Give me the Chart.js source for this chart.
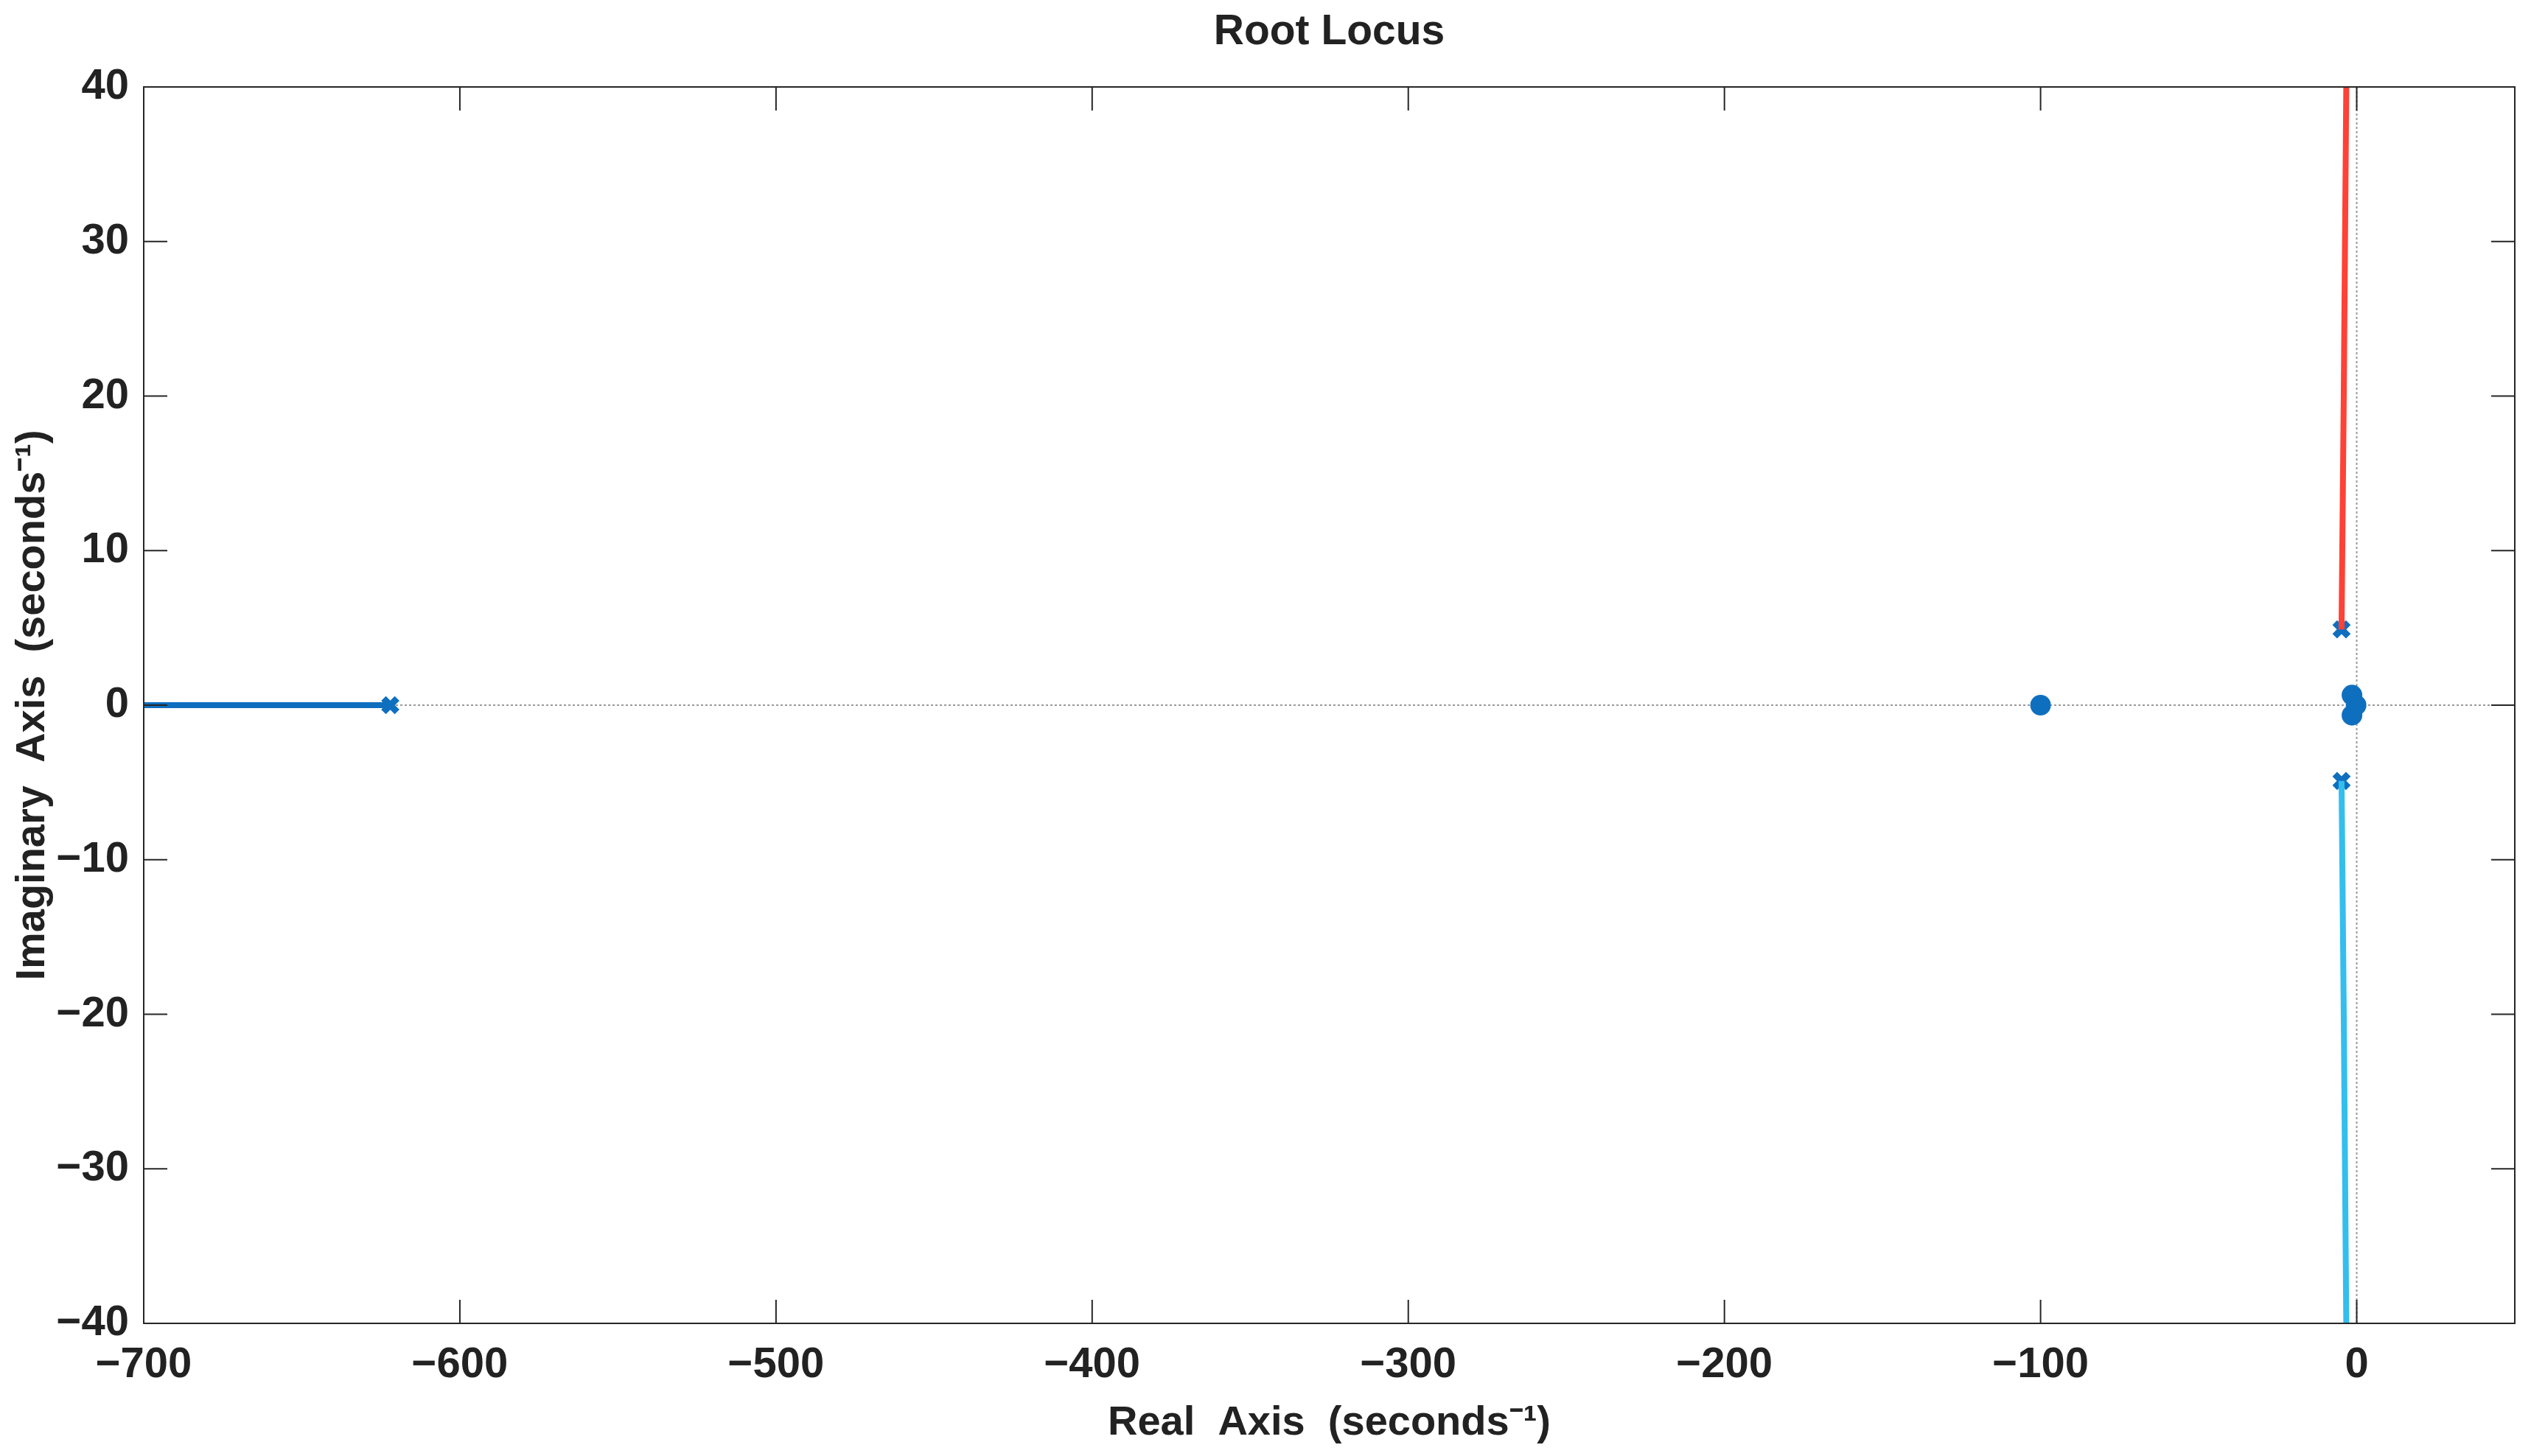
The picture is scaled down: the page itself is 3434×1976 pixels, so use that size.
<!DOCTYPE html>
<html>
<head>
<meta charset="utf-8">
<script src="https://cdn.jsdelivr.net/npm/chart.js@4.4.1/dist/chart.umd.min.js"></script>
<style>
  body { margin: 0; background: #fff; }
</style>
</head>
<body>
<canvas id="rootLocusCanvas" width="3434" height="1976"></canvas>
<script>
const rootLocusCanvas = document.getElementById("rootLocusCanvas");

// tick values
const xTicks = [-700, -600, -500, -400, -300, -200, -100, 0];
const yTicks = [-40, -30, -20, -10, 0, 10, 20, 30, 40];

// locus branches (real, imag)
const branchRealLeft = [-700, -622];
const branchImagLeft = [0, 0];
const branchRealUpper = [-4.8, -4.1, -3.3];
const branchImagUpper = [4.9, 20, 40];
const branchRealLower = [-4.8, -4.1, -3.3];
const branchImagLower = [-4.9, -20, -40];

// open loop poles and zeros
const poleReal = [-622, -4.8, -4.8];
const poleImag = [0, 4.9, -4.9];
const zeroReal = [-100, -1.5, -1.5, -0.2];
const zeroImag = [0, 0.65, -0.65, 0];

const toPoints = (xs, ys) => xs.map((x, i) => ({ x: x, y: ys[i] }));

const blue = '#0F6FBF';
const textColor = '#222222';
const fontFamily = '"Liberation Sans", Arial, Helvetica, sans-serif';

const minusSign = v => String(v).replace('-', '\u2212');

const boxAndTicks = {
    id: 'boxAndTicks',
    beforeDatasetsDraw(chart) {
        const ctx = chart.ctx;
        const area = chart.chartArea;
        const x0 = chart.scales.x.getPixelForValue(0);
        const y0 = chart.scales.y.getPixelForValue(0);

        ctx.save();
        ctx.strokeStyle = '#999999';
        ctx.lineWidth = 2;
        ctx.setLineDash([3, 3]);
        ctx.beginPath();
        ctx.moveTo(area.left, y0);
        ctx.lineTo(area.right, y0);
        ctx.moveTo(x0, area.top);
        ctx.lineTo(x0, area.bottom);
        ctx.stroke();
        ctx.restore();
    },
    afterDraw(chart) {
        const ctx = chart.ctx;
        const area = chart.chartArea;
        const tickLen = 32;

        ctx.save();
        ctx.strokeStyle = '#262626';
        ctx.lineWidth = 2;
        ctx.strokeRect(area.left, area.top, area.right - area.left, area.bottom - area.top);

        ctx.beginPath();
        xTicks.forEach(v => {
            const px = chart.scales.x.getPixelForValue(v);
            ctx.moveTo(px, area.bottom);
            ctx.lineTo(px, area.bottom - tickLen);
            ctx.moveTo(px, area.top);
            ctx.lineTo(px, area.top + tickLen);
        });
        yTicks.forEach(v => {
            const py = chart.scales.y.getPixelForValue(v);
            ctx.moveTo(area.left, py);
            ctx.lineTo(area.left + tickLen, py);
            ctx.moveTo(area.right, py);
            ctx.lineTo(area.right - tickLen, py);
        });
        ctx.stroke();

        // title centred over the axes, like matlab does it
        ctx.fillStyle = textColor;
        ctx.font = 'bold 57px ' + fontFamily;
        ctx.textAlign = 'center';
        ctx.textBaseline = 'middle';
        ctx.fillText('Root Locus', (area.left + area.right) / 2, 44);
        ctx.restore();
    }
};

const rootLocusChart = new Chart(rootLocusCanvas, {
    type: 'scatter',
    data: {
        datasets: [
            {
                label: 'branch left',
                data: toPoints(branchRealLeft, branchImagLeft),
                showLine: true,
                borderColor: blue,
                borderWidth: 8,
                pointRadius: 0
            },
            {
                label: 'branch upper',
                data: toPoints(branchRealUpper, branchImagUpper),
                showLine: true,
                borderColor: '#FF4136',
                borderWidth: 8,
                pointRadius: 0
            },
            {
                label: 'branch lower',
                data: toPoints(branchRealLower, branchImagLower),
                showLine: true,
                borderColor: '#33BEEE',
                borderWidth: 8,
                pointRadius: 0
            },
            {
                label: 'poles',
                data: toPoints(poleReal, poleImag),
                pointStyle: 'crossRot',
                pointRadius: 13,
                borderColor: blue,
                borderWidth: 9
            },
            {
                label: 'zeros',
                data: toPoints(zeroReal, zeroImag),
                pointStyle: 'circle',
                pointRadius: 14,
                backgroundColor: blue,
                borderColor: blue,
                borderWidth: 0
            }
        ]
    },
    options: {
        responsive: false,
        animation: false,
        layout: {
            padding: { left: 0, right: 22, top: 118, bottom: 0 }
        },
        plugins: {
            legend: { display: false },
            tooltip: { enabled: false },
            title: { display: false }
        },
        scales: {
            x: {
                type: 'linear',
                min: -700,
                max: 50,
                afterBuildTicks: scale => { scale.ticks = xTicks.map(v => ({ value: v })); },
                afterFit: scale => { scale.height = 180; },
                grid: { display: false, drawTicks: false },
                border: { display: false },
                ticks: {
                    color: textColor,
                    padding: 22,
                    maxRotation: 0,
                    font: { family: fontFamily, size: 58, weight: 'bold' },
                    callback: v => minusSign(v)
                },
                title: {
                    display: true,
                    text: 'Real  Axis  (seconds\u207B\u00B9)',
                    color: textColor,
                    font: { family: fontFamily, size: 56, weight: 'bold', lineHeight: 1.2 },
                    padding: { top: 0, bottom: 11 }
                }
            },
            y: {
                type: 'linear',
                min: -40,
                max: 40,
                afterBuildTicks: scale => { scale.ticks = yTicks.map(v => ({ value: v })); },
                afterFit: scale => { scale.width = 195; },
                grid: { display: false, drawTicks: false },
                border: { display: false },
                ticks: {
                    color: textColor,
                    padding: 20,
                    font: { family: fontFamily, size: 58, weight: 'bold' },
                    callback: v => minusSign(v)
                },
                title: {
                    display: true,
                    text: 'Imaginary  Axis  (seconds\u207B\u00B9)',
                    color: textColor,
                    font: { family: fontFamily, size: 56, weight: 'bold', lineHeight: 1.2 },
                    padding: { top: 11, bottom: 0 }
                }
            }
        }
    },
    plugins: [boxAndTicks]
});
</script>
</body>
</html>
